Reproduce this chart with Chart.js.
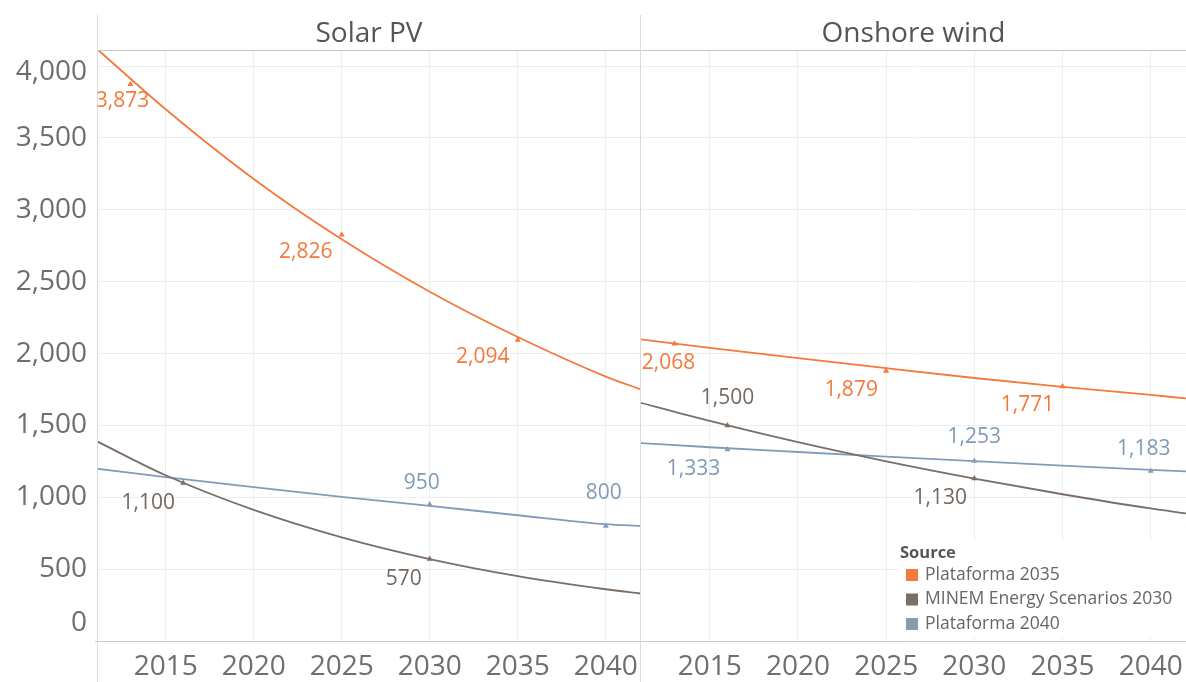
<!DOCTYPE html>
<html>
<head>
<meta charset="utf-8">
<script src="https://cdn.jsdelivr.net/npm/chart.js@4.4.1/dist/chart.umd.min.js"></script>
<style>
    body { margin: 0; background: #fff; }
    #wrap { position: relative; width: 1186px; height: 682px; }
    .panel { position: absolute; top: 0; height: 682px; }
</style>
</head>
<body>
<div id="wrap">
    <div class="panel" style="left:0;width:641px"><canvas id="solarChart"></canvas></div>
    <div class="panel" style="left:641px;width:545px"><canvas id="windChart"></canvas></div>
</div>
<script>
// Axis ticks and legend entries
const xTicks = [2015, 2020, 2025, 2030, 2035, 2040];
const yTicks = [0, 500, 1000, 1500, 2000, 2500, 3000, 3500, 4000];
const sources = ['Plataforma 2035', 'MINEM Energy Scenarios 2030', 'Plataforma 2040'];

// Trend lines
const trendYears = [2011, 2015, 2020, 2025, 2030, 2035, 2040, 2042];
const solarTrend2035 = [4130, 3700, 3215, 2795, 2430, 2115, 1840, 1750];
const solarTrendMinem = [1395, 1153, 912, 721, 570, 451, 360, 330];
const solarTrend2040 = [1200, 1140, 1070, 1003, 940, 875, 813, 800];
const windTrend2035 = [2100, 2040, 1968, 1898, 1830, 1768, 1712, 1688];
const windTrendMinem = [1660, 1531, 1383, 1250, 1130, 1021, 922, 888];
const windTrend2040 = [1378, 1348, 1315, 1283, 1252, 1220, 1190, 1180];

// Reported points
const solarYears2035 = [2013, 2025, 2035];
const solarValues2035 = [3873, 2826, 2094];
const solarYearsMinem = [2016, 2030];
const solarValuesMinem = [1100, 570];
const solarYears2040 = [2030, 2040];
const solarValues2040 = [950, 800];

const windYears2035 = [2013, 2025, 2035];
const windValues2035 = [2068, 1879, 1771];
const windYearsMinem = [2016, 2030];
const windValuesMinem = [1500, 1130];
const windYears2040 = [2016, 2030, 2040];
const windValues2040 = [1333, 1253, 1183];

const colors = ['#f4793b', '#7a6e66', '#7f9db9'];
const labelColors = ['#f4793b', '#74685f', '#7f9bb6'];
const font = '"Open Sans", "DejaVu Sans", sans-serif';

// label placement next to each point (dx, dy in px)
const solarOffsets = [
    [[-8, 17], [-36, 17], [-35, 17]],
    [[-35, 20], [-26, 20]],
    [[-8, -21], [-2, -33]]
];
const windOffsets = [
    [[-6, 19], [-35, 19], [-35, 19]],
    [[0, -27], [-34, 19]],
    [[-34, 20], [0, -24], [-7, -22]]
];

function pairs(xs, ys) {
    return xs.map((x, i) => ({ x: x, y: ys[i] }));
}

const panelFrame = {
    id: 'panelFrame',
    afterDraw(chart, args, opts) {
        const ctx = chart.ctx;
        const a = chart.chartArea;
        ctx.save();
        ctx.lineWidth = 1;
        ctx.strokeStyle = '#c8c8c8';
        ctx.beginPath();
        ctx.moveTo(a.left, a.top + 0.5);
        ctx.lineTo(a.right, a.top + 0.5);
        ctx.moveTo(opts.axisFrom, a.bottom + 0.5);
        ctx.lineTo(a.right, a.bottom + 0.5);
        ctx.stroke();
        ctx.strokeStyle = '#dadada';
        ctx.beginPath();
        opts.edges.forEach(x => {
            ctx.moveTo(x, 15);
            ctx.lineTo(x, chart.height);
        });
        ctx.stroke();
        ctx.fillStyle = '#555555';
        ctx.font = '28px ' + font;
        ctx.textAlign = 'center';
        ctx.textBaseline = 'middle';
        ctx.fillText(opts.title, (a.left + a.right) / 2, 34);
        ctx.restore();
    }
};

const pointLabels = {
    id: 'pointLabels',
    afterDatasetsDraw(chart) {
        const ctx = chart.ctx;
        ctx.save();
        ctx.font = '21px ' + font;
        ctx.textAlign = 'center';
        ctx.textBaseline = 'middle';
        chart.data.datasets.forEach((ds, i) => {
            if (!ds.labelOffsets) return;
            ctx.fillStyle = ds.labelColor;
            chart.getDatasetMeta(i).data.forEach((pt, j) => {
                const off = ds.labelOffsets[j];
                ctx.fillText(ds.data[j].y.toLocaleString('en-US'), pt.x + off[0], pt.y + off[1]);
            });
        });
        ctx.restore();
    }
};

// y labels are drawn by hand so the edge ones can be pulled inside the pane
const yLabels = {
    id: 'yLabels',
    afterDraw(chart) {
        const ctx = chart.ctx;
        const a = chart.chartArea;
        const scale = chart.scales.y;
        ctx.save();
        ctx.font = '28px ' + font;
        ctx.fillStyle = '#6e6e6e';
        ctx.textAlign = 'right';
        ctx.textBaseline = 'middle';
        yTicks.forEach(v => {
            let py = scale.getPixelForValue(v);
            py = Math.min(Math.max(py, a.top + 22), a.bottom - 18);
            ctx.fillText(v.toLocaleString('en-US'), 87, py);
        });
        ctx.restore();
    }
};

const sourceLegend = {
    id: 'sourceLegend',
    afterDraw(chart) {
        const ctx = chart.ctx;
        ctx.save();
        ctx.fillStyle = '#ffffff';
        ctx.fillRect(257, 540, 288, 97);
        ctx.textBaseline = 'middle';
        ctx.textAlign = 'left';
        ctx.font = 'bold 16.5px ' + font;
        ctx.fillStyle = '#555555';
        ctx.fillText('Source', 259, 553);
        ctx.font = '17.5px ' + font;
        sources.forEach((name, i) => {
            const y = 575 + i * 24.5;
            ctx.fillStyle = colors[i];
            ctx.fillRect(265, y - 6, 12, 12);
            ctx.fillStyle = '#666666';
            ctx.fillText(name, 284, y);
        });
        ctx.restore();
    }
};

function trendSet(data, i) {
    return {
        type: 'line',
        data: pairs(trendYears, data),
        borderColor: colors[i],
        borderWidth: 1.8,
        pointRadius: 0,
        cubicInterpolationMode: 'monotone',
        order: 2
    };
}

function pointSet(xs, ys, i, offsets) {
    return {
        type: 'line',
        data: pairs(xs, ys),
        showLine: false,
        pointStyle: 'triangle',
        pointRadius: 3.5,
        pointBackgroundColor: colors[i],
        pointBorderColor: colors[i],
        pointBorderWidth: 0,
        labelOffsets: offsets,
        labelColor: labelColors[i],
        order: 1
    };
}

function makePanel(canvasId, title, datasets, yWidth, extra, frame) {
    const ctx = document.getElementById(canvasId).getContext('2d');
    return new Chart(ctx, {
        type: 'line',
        data: { datasets: datasets },
        plugins: [panelFrame, pointLabels].concat(extra),
        options: {
            responsive: true,
            maintainAspectRatio: false,
            animation: false,
            layout: { autoPadding: false, padding: { top: 50, left: 0, right: 0, bottom: 0 } },
            plugins: {
                legend: { display: false },
                tooltip: { enabled: false },
                panelFrame: Object.assign({ title: title }, frame)
            },
            scales: {
                x: {
                    type: 'linear',
                    min: 2011.1,
                    max: 2042,
                    afterBuildTicks: scale => { scale.ticks = xTicks.map(v => ({ value: v })); },
                    afterFit: scale => {
                        scale.height = 41;
                        scale.paddingLeft = 0;
                        scale.paddingRight = 0;
                    },
                    grid: { color: '#eeeeee', drawTicks: false },
                    border: { display: false },
                    ticks: {
                        padding: 9,
                        color: '#6e6e6e',
                        font: { family: font, size: 28 },
                        maxRotation: 0,
                        callback: v => String(v)
                    }
                },
                y: {
                    min: 0,
                    max: 4112,
                    afterBuildTicks: scale => { scale.ticks = yTicks.map(v => ({ value: v })); },
                    afterFit: scale => {
                        scale.width = yWidth;
                        scale.paddingTop = 0;
                        scale.paddingBottom = 0;
                    },
                    grid: { color: '#eeeeee', drawTicks: false },
                    border: { display: false },
                    ticks: { display: false }
                }
            }
        }
    });
}

document.addEventListener('DOMContentLoaded', function() {
    makePanel('solarChart', 'Solar PV', [
        trendSet(solarTrend2035, 0),
        trendSet(solarTrendMinem, 1),
        trendSet(solarTrend2040, 2),
        pointSet(solarYears2035, solarValues2035, 0, solarOffsets[0]),
        pointSet(solarYearsMinem, solarValuesMinem, 1, solarOffsets[1]),
        pointSet(solarYears2040, solarValues2040, 2, solarOffsets[2])
    ], 97, [yLabels], { edges: [97.5, 640.5], axisFrom: 95 });

    makePanel('windChart', 'Onshore wind', [
        trendSet(windTrend2035, 0),
        trendSet(windTrendMinem, 1),
        trendSet(windTrend2040, 2),
        pointSet(windYears2035, windValues2035, 0, windOffsets[0]),
        pointSet(windYearsMinem, windValuesMinem, 1, windOffsets[1]),
        pointSet(windYears2040, windValues2040, 2, windOffsets[2])
    ], 0, [sourceLegend], { edges: [], axisFrom: 0 });
});
</script>
</body>
</html>
